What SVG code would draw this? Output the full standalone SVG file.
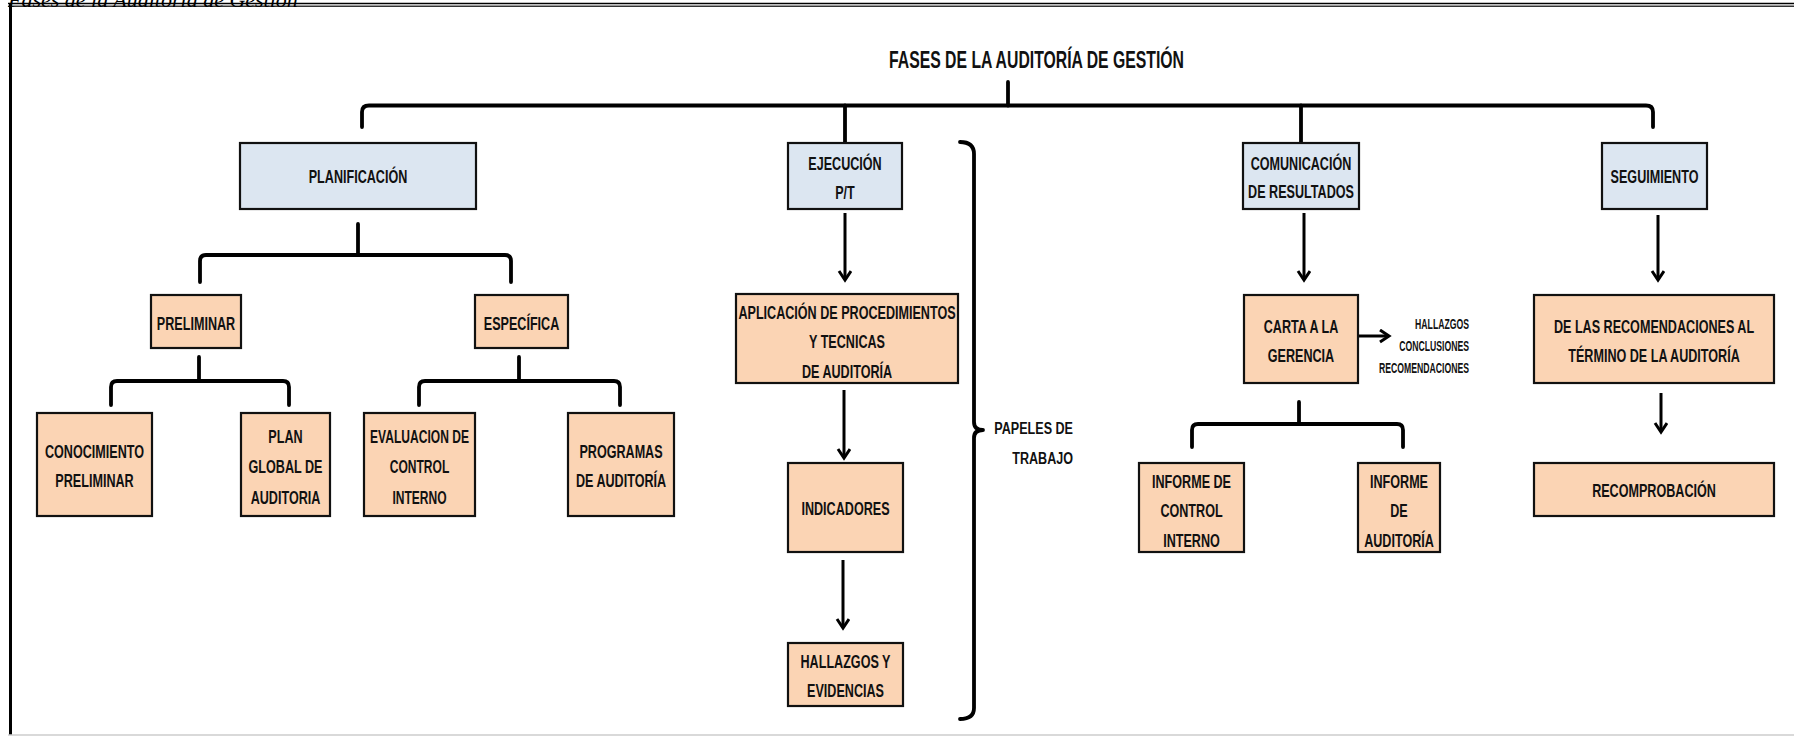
<svg xmlns="http://www.w3.org/2000/svg" width="1794" height="736" viewBox="0 0 1794 736">
<style>
.bx{stroke:#111;stroke-width:2.2}
.blue{fill:#dce6f1}
.org{fill:#fbd4b4}
.t{font-family:"Liberation Sans",Arial,sans-serif;font-weight:bold;font-size:18px;fill:#111;text-anchor:middle}
.ttl{font-size:24px}
.pp{font-size:17px;text-anchor:end}
.sm{font-size:14px;text-anchor:end}
.br{fill:none;stroke:#000;stroke-width:3.8;stroke-linecap:round;stroke-linejoin:round}
.ar{fill:none;stroke:#000;stroke-width:3}
</style>
<defs>
<marker id="ah" markerUnits="userSpaceOnUse" markerWidth="16" markerHeight="16" refX="11" refY="7" orient="auto">
<path d="M2,1 L11,7 L2,13" fill="none" stroke="#000" stroke-width="3"/>
</marker>
</defs>
<rect width="1794" height="736" fill="#fff"/>
<g id="frame">
<line x1="8" y1="3.5" x2="1794" y2="3.5" stroke="#000" stroke-width="1.6"/>
<line x1="8" y1="6.3" x2="1794" y2="6.3" stroke="#333" stroke-width="1.4"/>
<line x1="10.5" y1="3" x2="10.5" y2="735" stroke="#000" stroke-width="3"/>
<line x1="8" y1="735" x2="1794" y2="735" stroke="#ccc" stroke-width="1.5"/>
</g>
<text x="8" y="7" font-family="Liberation Serif, serif" font-style="italic" font-size="22" fill="#000">Fases de la Auditoría de Gestión</text>
<g id="title"><text class="t ttl" x="1036.5" y="68" textLength="295" lengthAdjust="spacingAndGlyphs">FASES DE LA AUDITORÍA DE GESTIÓN</text></g>
<g id="connectors">
<path class="br" d="M362,127 V112 Q362,105.5 369,105.5 H1646 Q1653,105.5 1653,112 V127"/>
<path class="br" d="M1008,82 V105.5"/>
<path class="br" d="M845,105.5 V143 M1301,105.5 V143"/>
<path class="br" d="M358,224 V255"/>
<path class="br" d="M200,282 V261 Q200,255 206,255 H505 Q511,255 511,261 V282"/>
<path class="br" d="M199,357 V381"/>
<path class="br" d="M111,405 V387 Q111,381 117,381 H283 Q289,381 289,387 V405"/>
<path class="br" d="M519,357 V381"/>
<path class="br" d="M419,405 V387 Q419,381 425,381 H614 Q620,381 620,387 V405"/>
<path class="br" d="M960,142 Q974,142 974,154 V422 Q974,430 983,430 Q974,430 974,438 V708 Q974,719 960,719"/>
<path class="br" d="M1299,402 V424"/>
<path class="br" d="M1192,447 V430 Q1192,424 1198,424 H1397 Q1403,424 1403,430 V447"/>
<line class="ar" x1="845" y1="213" x2="845" y2="280" marker-end="url(#ah)"/>
<line class="ar" x1="844" y1="390" x2="844" y2="458" marker-end="url(#ah)"/>
<line class="ar" x1="843" y1="560" x2="843" y2="628" marker-end="url(#ah)"/>
<line class="ar" x1="1304" y1="213" x2="1304" y2="280" marker-end="url(#ah)"/>
<line class="ar" x1="1358" y1="336" x2="1389" y2="336" marker-end="url(#ah)"/>
<line class="ar" x1="1658" y1="215" x2="1658" y2="280" marker-end="url(#ah)"/>
<line class="ar" x1="1661" y1="393" x2="1661" y2="432" marker-end="url(#ah)"/>
</g>
<g id="planificacion"><rect class="bx blue" x="240" y="143" width="236" height="66"/>
<text class="t" transform="translate(358 183) scale(0.7 1)">PLANIFICACIÓN</text></g>
<g id="ejecucion"><rect class="bx blue" x="788" y="143" width="114" height="66"/>
<text class="t" transform="translate(845 170) scale(0.7 1)">EJECUCIÓN<tspan x="0" dy="29">P/T</tspan></text></g>
<g id="comunicacion"><rect class="bx blue" x="1243" y="143" width="116" height="66"/>
<text class="t" transform="translate(1301 170) scale(0.7 1)">COMUNICACIÓN<tspan x="0" dy="28">DE RESULTADOS</tspan></text></g>
<g id="seguimiento"><rect class="bx blue" x="1602" y="143" width="105" height="66"/>
<text class="t" transform="translate(1654.5 183) scale(0.7 1)">SEGUIMIENTO</text></g>
<g id="preliminar"><rect class="bx org" x="151" y="295" width="90" height="53"/>
<text class="t" transform="translate(196 330) scale(0.7 1)">PRELIMINAR</text></g>
<g id="especifica"><rect class="bx org" x="475" y="295" width="93" height="53"/>
<text class="t" transform="translate(521.5 330) scale(0.7 1)">ESPECÍFICA</text></g>
<g id="conocimiento"><rect class="bx org" x="37" y="413" width="115" height="103"/>
<text class="t" transform="translate(94.5 458) scale(0.7 1)">CONOCIMIENTO<tspan x="0" dy="29">PRELIMINAR</tspan></text></g>
<g id="plan-global"><rect class="bx org" x="241" y="413" width="89" height="103"/>
<text class="t" transform="translate(285.5 443) scale(0.7 1)">PLAN<tspan x="0" dy="30.5">GLOBAL DE</tspan><tspan x="0" dy="30.5">AUDITORIA</tspan></text></g>
<g id="evaluacion"><rect class="bx org" x="364" y="413" width="111" height="103"/>
<text class="t" transform="translate(419.5 443) scale(0.67 1)">EVALUACION DE<tspan x="0" dy="30.5">CONTROL</tspan><tspan x="0" dy="30.5">INTERNO</tspan></text></g>
<g id="programas"><rect class="bx org" x="568" y="413" width="106" height="103"/>
<text class="t" transform="translate(621 458) scale(0.7 1)">PROGRAMAS<tspan x="0" dy="29">DE AUDITORÍA</tspan></text></g>
<g id="aplicacion"><rect class="bx org" x="736" y="294" width="222" height="89"/>
<text class="t" transform="translate(847 319) scale(0.7 1)">APLICACIÓN DE PROCEDIMIENTOS<tspan x="0" dy="29.5">Y TECNICAS</tspan><tspan x="0" dy="29.5">DE AUDITORÍA</tspan></text></g>
<g id="indicadores"><rect class="bx org" x="788" y="463" width="115" height="89"/>
<text class="t" transform="translate(845.5 515) scale(0.7 1)">INDICADORES</text></g>
<g id="hallazgos-evidencias"><rect class="bx org" x="788" y="643" width="115" height="63"/>
<text class="t" transform="translate(845.5 668) scale(0.7 1)">HALLAZGOS Y<tspan x="0" dy="29.5">EVIDENCIAS</tspan></text></g>
<g id="papeles"><text class="t pp" transform="translate(1073 434) scale(0.74 1)">PAPELES DE<tspan x="0" dy="30">TRABAJO</tspan></text></g>
<g id="carta"><rect class="bx org" x="1244" y="295" width="114" height="88"/>
<text class="t" transform="translate(1301 333) scale(0.7 1)">CARTA A LA<tspan x="0" dy="29">GERENCIA</tspan></text></g>
<g id="carta-items"><text class="t sm" transform="translate(1469 329) scale(0.62 1)">HALLAZGOS<tspan x="0" dy="22">CONCLUSIONES</tspan><tspan x="0" dy="22">RECOMENDACIONES</tspan></text></g>
<g id="informe-control"><rect class="bx org" x="1139" y="463" width="105" height="89"/>
<text class="t" transform="translate(1191.5 488) scale(0.7 1)">INFORME DE<tspan x="0" dy="29.5">CONTROL</tspan><tspan x="0" dy="29.5">INTERNO</tspan></text></g>
<g id="informe-auditoria"><rect class="bx org" x="1358" y="463" width="82" height="89"/>
<text class="t" transform="translate(1399 488) scale(0.7 1)">INFORME<tspan x="0" dy="29.5">DE</tspan><tspan x="0" dy="29.5">AUDITORÍA</tspan></text></g>
<g id="recomendaciones"><rect class="bx org" x="1534" y="295" width="240" height="88"/>
<text class="t" transform="translate(1654 333) scale(0.7 1)">DE LAS RECOMENDACIONES AL<tspan x="0" dy="29">TÉRMINO DE LA AUDITORÍA</tspan></text></g>
<g id="recomprobacion"><rect class="bx org" x="1534" y="463" width="240" height="53"/>
<text class="t" transform="translate(1654 497) scale(0.7 1)">RECOMPROBACIÓN</text></g>
</svg>
